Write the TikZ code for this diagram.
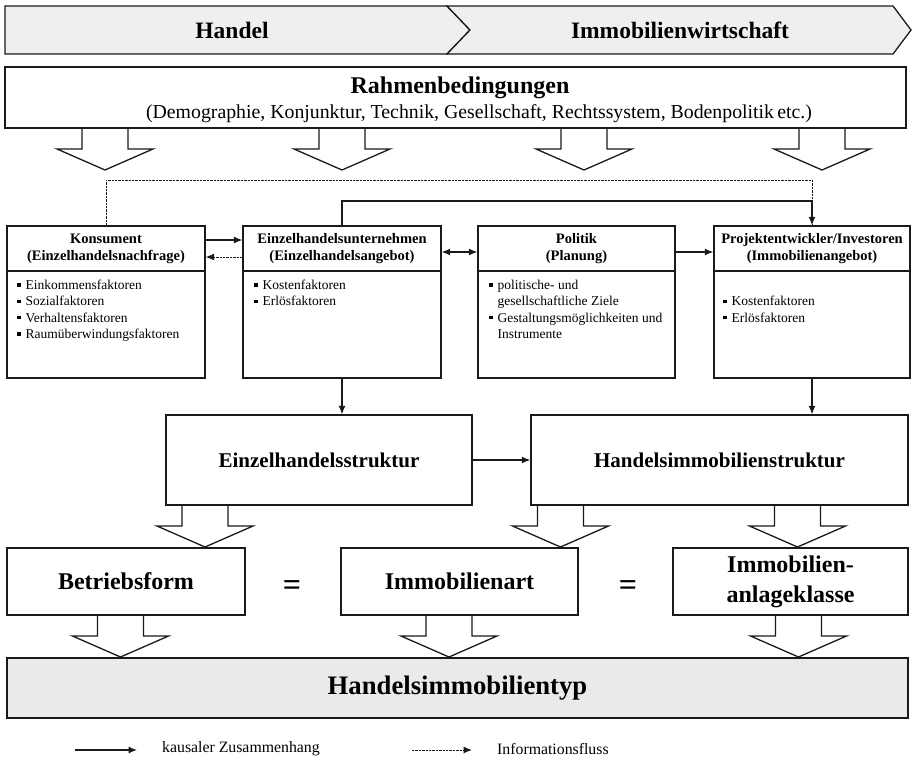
\documentclass[tikz,border=0pt]{standalone}
\usepackage{fontspec}
\setmainfont{Liberation Serif}
\usetikzlibrary{arrows.meta,calc}

\definecolor{ink}{HTML}{1A1A1A}
\definecolor{paleband}{HTML}{EFEFEF}
\definecolor{palebase}{HTML}{EAEAEA}

\newcommand\fs[2]{\fontsize{#1}{#2}\selectfont}
\newcommand\sqbul{\strut\makebox[8.5pt][l]{\raisebox{2.8pt}{\rule{3.4pt}{3.4pt}}}}
\newcommand\nobul{\strut\makebox[8.5pt][l]{}}

\tikzset{
  frame/.style={draw=ink, line width=1.35pt, fill=white, inner sep=2pt, align=center},
  headbox/.style={frame, minimum height=45pt, font=\fs{14.5}{17}\bfseries},
  bodybox/.style={frame, minimum height=107pt},
  structbox/.style={frame, minimum height=90pt, font=\fs{21}{25}\bfseries},
  formbox/.style={frame, minimum height=67pt, font=\fs{24}{30}\bfseries},
  listtext/.style={anchor=north west, inner sep=0pt, align=left, font=\fs{13.5}{16.3}},
  tip/.style={Latex[length=8.5pt,width=7pt]},
  causal/.style={draw=ink, line width=1.1pt, -{Latex[length=8.5pt,width=7pt]}},
  causalboth/.style={draw=ink, line width=1.1pt, {Latex[length=8.5pt,width=7pt]}-{Latex[length=8.5pt,width=7pt]}},
  info/.style={draw=ink, line width=1pt, dash pattern=on 2.4pt off 1pt},
  infoarrow/.style={info, -{Latex[length=8.5pt,width=7pt]}},
  bigarrow/.pic={\draw[ink, line width=1.3pt, fill=white, line join=miter]
      (-23,0) -- (-23,21) -- (-48,21) -- (0,42) -- (48,21) -- (23,21) -- (23,0);},
}

\begin{document}
\begin{tikzpicture}[x=1pt,y=-1pt]
\useasboundingbox (0,0) rectangle (915,761);

% --- chevron band: Handel | Immobilienwirtschaft
\filldraw[draw=ink, fill=paleband, line width=1.3pt, line join=miter]
  (5,6) -- (447,6) -- (470,30) -- (447,54) -- (5,54) -- cycle;
\filldraw[draw=ink, fill=paleband, line width=1.3pt, line join=miter]
  (447,6) -- (893,6) -- (911,30) -- (893,54) -- (447,54) -- (470,30) -- cycle;
\node[font=\fs{23.5}{28}\bfseries] (handel) at (232,30) {Handel};
\node[font=\fs{23.5}{28}\bfseries] (immowi) at (680,30) {Immobilienwirtschaft};

% --- framework conditions and their four block arrows
\pic at (105,128) {bigarrow};
\pic at (342,128) {bigarrow};
\pic at (584,128) {bigarrow};
\pic at (822,128) {bigarrow};
\node[frame, minimum width=901pt, minimum height=61pt] (rahmen) at (455.5,97.5) {};
\node[font=\fs{24}{28}\bfseries] (rahmentitle) at (460,88) {Rahmenbedingungen};
\node[font=\fs{19.8}{24}] (rahmensub) at (479,113.5)
  {(Demographie, Konjunktur, Technik, Gesellschaft, Rechtssystem, Bodenpolitik\,etc.)};

% --- actors: headers and bodies
\node[headbox, minimum width=198pt] (konsH) at (106,248.5) {Konsument\\(Einzelhandelsnachfrage)};
\node[bodybox, minimum width=198pt] (konsB) at (106,324.5) {};
\node[headbox, minimum width=198pt] (einzH) at (342,248.5) {Einzelhandelsunternehmen\\(Einzelhandelsangebot)};
\node[bodybox, minimum width=198pt] (einzB) at (342,324.5) {};
\node[headbox, minimum width=197pt] (polH) at (576.5,248.5) {Politik\\(Planung)};
\node[bodybox, minimum width=197pt] (polB) at (576.5,324.5) {};
\node[headbox, minimum width=196pt] (projH) at (812,248.5) {Projektentwickler/Investoren\\(Immobilienangebot)};
\node[bodybox, minimum width=196pt] (projB) at (812,324.5) {};

\node[listtext] (konsL) at (17,278) {\sqbul Einkommensfaktoren\\\sqbul Sozialfaktoren\\\sqbul Verhaltensfaktoren\\\sqbul Raumüberwindungsfaktoren};
\node[listtext] (einzL) at (254,278) {\sqbul Kostenfaktoren\\\sqbul Erlösfaktoren};
\node[listtext] (polL) at (489,278) {\sqbul politische- und\\\nobul gesellschaftliche Ziele\\\sqbul Gestaltungsmöglichkeiten und\\\nobul Instrumente};
\node[listtext] (projL) at (723,294.3) {\sqbul Kostenfaktoren\\\sqbul Erlösfaktoren};

% --- links between the actors
\draw[causal] ([yshift=8.5pt]konsH.east) -- ([yshift=8.5pt]einzH.west);
\draw[infoarrow] ([yshift=-8.5pt]einzH.west) -- ([yshift=-8.5pt]konsH.east);
\draw[causalboth] ([yshift=-3.5pt]einzH.east) -- ([yshift=-3.5pt]polH.west);
\draw[causal] ([yshift=-3.5pt]polH.east) -- ([yshift=-3.5pt]projH.west);

\coordinate (infoL) at (106,180);
\coordinate (infoR) at (812,180);
\draw[info] (konsH.north) -- (infoL) -- (infoR) -- (projH.north);
\coordinate (supL) at (342,201);
\coordinate (supR) at (812,201);
\draw[causal] (einzH.north) -- (supL) -- (supR) -- (projH.north);

% --- structures
\pic at (205,505) {bigarrow};
\pic at (560.5,505) {bigarrow};
\pic at (797.5,505) {bigarrow};
\node[structbox, minimum width=306pt] (einzS) at (319,460) {Einzelhandelsstruktur};
\node[structbox, minimum width=377pt] (hisS) at (719.5,460) {Handelsimmobilienstruktur};

\draw[causal] (einzB.south) -- (einzB.south |- einzS.north);
\draw[causal] (projB.south) -- (projB.south |- hisS.north);
\draw[causal] (einzS.east) -- (hisS.west);

% --- equivalent classifications
\pic at (120.5,615) {bigarrow};
\pic at (449,615) {bigarrow};
\pic at (798.5,615) {bigarrow};
\node[formbox, minimum width=238pt] (betr) at (126,581.5) {Betriebsform};
\node[formbox, minimum width=237pt] (immart) at (459.5,581.5) {Immobilienart};
\node[formbox, minimum width=235pt] (anlage) at (790.5,581.5) {Immobilien-\\anlageklasse};
\node[font=\fs{32}{32}\bfseries] (eqA) at (292,588) {=};
\node[font=\fs{32}{32}\bfseries] (eqB) at (628,588) {=};

% --- result
\node[frame, fill=palebase, minimum width=901pt, minimum height=60pt,
      font=\fs{26.7}{30}\bfseries] (typ) at (457.5,688) {Handelsimmobilientyp};

% --- legend
\coordinate (lgA) at (75,750);
\coordinate (lgB) at (137,750);
\draw[causal] (lgA) -- (lgB);
\node[anchor=west, inner sep=0pt, font=\fs{15.8}{18}] (lgT1) at (162,749) {kausaler Zusammenhang};
\coordinate (lgC) at (412,750);
\coordinate (lgD) at (472,750);
\draw[infoarrow] (lgC) -- (lgD);
\node[anchor=west, inner sep=0pt, font=\fs{15.8}{18}] (lgT2) at (497,749) {Informationsfluss};
\end{tikzpicture}
\end{document}
